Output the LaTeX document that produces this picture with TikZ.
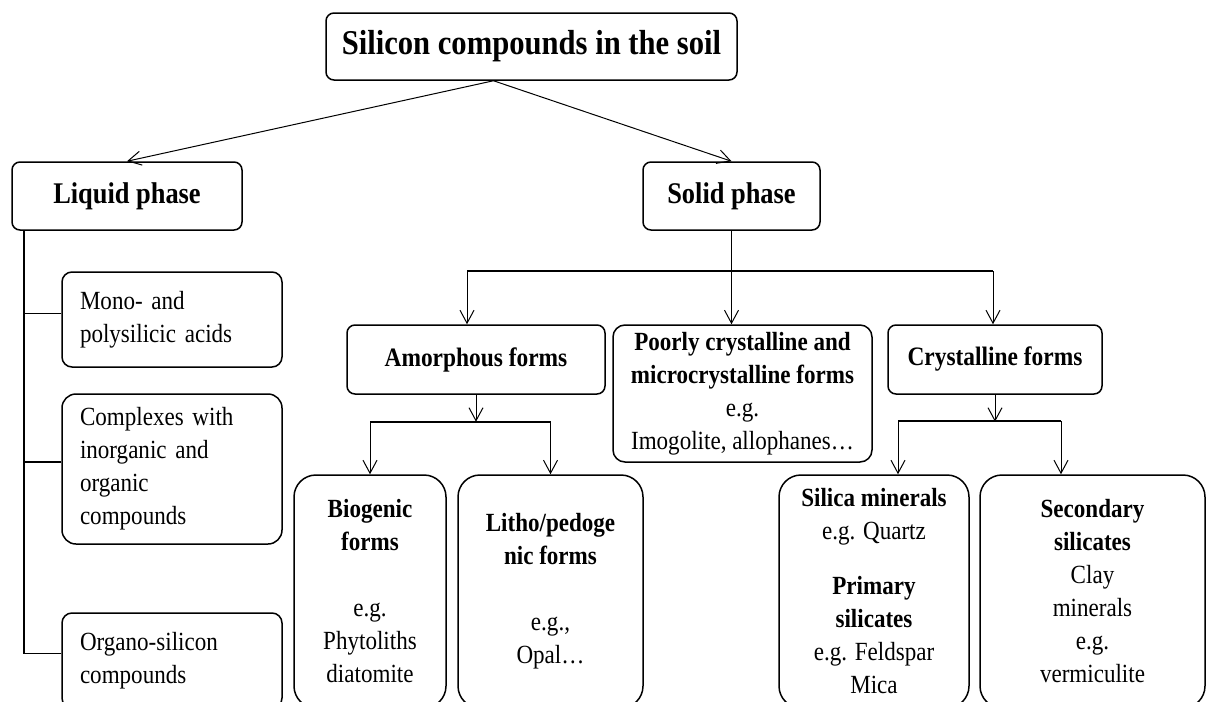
\documentclass[tikz,border=0pt]{standalone}
\usepackage{fontspec}
\setmainfont[FakeStretch=0.88]{Liberation Serif}
\usetikzlibrary{arrows.meta}

\tikzset{
	box/.style={draw, line width=0.75pt, rounded corners=4pt, align=center, inner sep=2pt,
		font=\fontsize{13.1}{16.5}\selectfont},
	tallbox/.style={box, rounded corners=11pt},
	leftbox/.style={box, rounded corners=5pt, align=left, text width=92pt, inner xsep=9pt},
	headbox/.style={box, font=\bfseries\fontsize{13.3}{16.5}\selectfont},
	phasebox/.style={box, minimum height=34pt, font=\bfseries\fontsize{15}{18}\selectfont},
	line/.style={line width=0.8pt},
	bar/.style={line width=0.9pt},
	arr/.style={-{Straight Barb[length=6.5pt,width=7pt]}, line width=0.5pt}
}

\begin{document}
\begin{tikzpicture}[x=0.5pt, y=-0.5pt]

				\useasboundingbox (0,0) rectangle (1206,702);
				\clip (0,0) rectangle (1206,702);

				\node [box, minimum width=205.5pt, minimum height=33.5pt,
				font=\bfseries\fontsize{17.4}{20}\selectfont] (top) at (531.5,46.5) {Silicon compounds in the soil};
				\node [phasebox, minimum width=115pt] (liquid) at (127,196) {Liquid phase};
				\node [phasebox, minimum width=88.5pt] (solid) at (731.5,196) {Solid phase};

				\node [leftbox, minimum height=47.5pt] (mono) at (172,319.5) {Mono- and\\polysilicic acids};
				\node [leftbox, rounded corners=7pt, minimum height=75pt] (complex) at (172,469)
				{Complexes with\\inorganic and\\organic\\compounds};
				\node [leftbox, minimum height=47.5pt] (organo) at (172,660.5) {Organo-silicon\\compounds};

				\node [headbox, minimum width=129pt, minimum height=34.5pt] (amorph) at (476,359.5) {Amorphous forms};
				\node [box, rounded corners=6pt, minimum width=129.5pt, minimum height=68.5pt] (poorly) at (742.5,393.5)
				{\textbf{Poorly crystalline and}\\\textbf{microcrystalline forms}\\e.g.\\Imogolite, allophanes…};
				\node [headbox, minimum width=107pt, minimum height=34.5pt] (cryst) at (995,359.5) {Crystalline forms};

				\node [tallbox, minimum width=76pt, minimum height=116.5pt] (bio) at (370,591.5)
				{\textbf{Biogenic}\\\textbf{forms}\\[16.5pt]e.g.\\Phytoliths\\diatomite};
				\node [tallbox, minimum width=92.5pt, minimum height=116.5pt] (litho) at (550.5,591.5)
				{\textbf{Litho/pedoge}\\\textbf{nic forms}\\[16.5pt]e.g.,\\Opal…};
				\node [tallbox, minimum width=95pt, minimum height=116.5pt] (silica) at (874,591.5)
				{\textbf{Silica minerals}\\e.g. Quartz\\[11pt]\textbf{Primary}\\\textbf{silicates}\\e.g. Feldspar\\Mica};
				\node [tallbox, minimum width=112.5pt, minimum height=116.5pt] (second) at (1092.5,591.5)
				{\textbf{Secondary}\\\textbf{silicates}\\Clay\\minerals\\e.g.\\vermiculite};

				\draw [arr] ([xshift=-19pt]top.south) -- (liquid.north);
				\draw [arr] ([xshift=-19pt]top.south) -- (solid.north);

				\coordinate (ltrunk) at ([xshift=6.5pt]liquid.south west);
				\draw [line] ([yshift=3pt]mono.west) -| (ltrunk);
				\draw [line] ([yshift=3.5pt]complex.west) -| (ltrunk);
				\draw [line] ([yshift=3.5pt]organo.west) -| (ltrunk);

				\draw [line] (solid.south) -- ++(0,41) coordinate (sj);
				\coordinate (sl) at (467,271);
				\coordinate (sr) at (993,271);
				\draw [bar] (sl) -- (sr);
				\draw [arr] (sl) -- (sl |- amorph.north);
				\draw [arr] (sj) -- (sj |- poorly.north);
				\draw [arr] (sr) -- (sr |- cryst.north);

				\draw [arr] (amorph.south) -- ++(0,27) coordinate (aj);
				\draw [bar] (aj -| bio.north) -- (aj -| litho.north);
				\draw [arr] (aj -| bio.north) -- (bio.north);
				\draw [arr] (aj -| litho.north) -- (litho.north);

				\draw [arr] (cryst.south) -- ++(0,27) coordinate (cj);
				\coordinate (cl) at (898,421);
				\coordinate (cr) at (1061,421);
				\draw [bar] (cl) -- (cr);
				\draw [arr] (cl) -- (cl |- silica.north);
				\draw [arr] (cr) -- (cr |- second.north);

\end{tikzpicture}
\end{document}
